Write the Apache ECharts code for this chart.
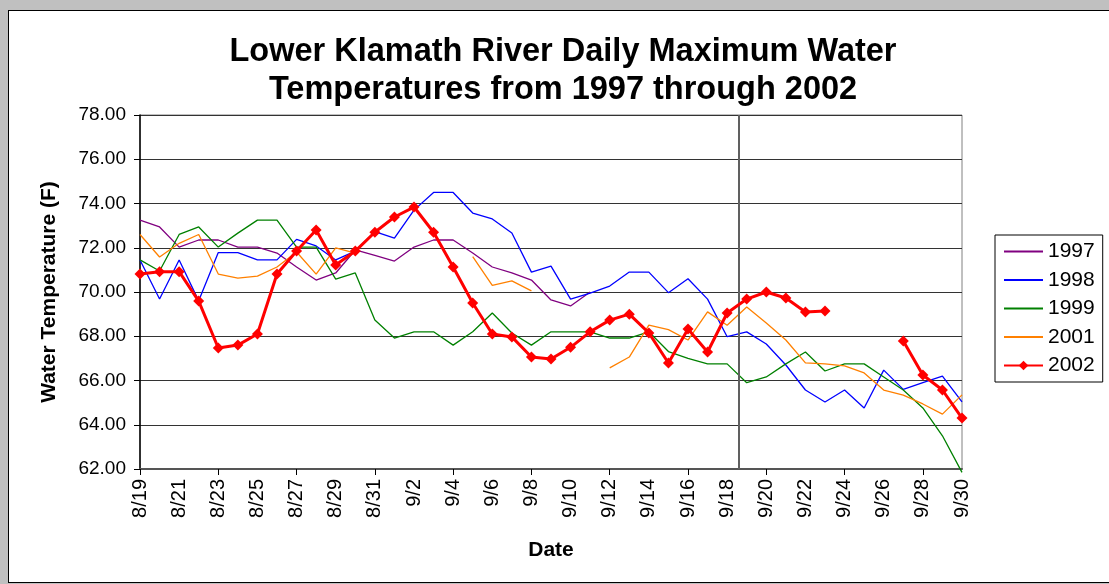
<!doctype html>
<html>
    <head>
        <meta charset="utf-8">
        <style>
            html, body { margin: 0; padding: 0; background: #c0c0c0; overflow: hidden; }
            #frame { position: absolute; left: 8px; top: 10px; width: 1120px; height: 571px; background: #fff; border: 1px solid #000; }
            #main { position: absolute; left: 0; top: 0; width: 1109px; height: 584px; }
        </style>
    </head>
    <body>
        <div id="frame"></div>
        <div id="main"></div>
        <script src="https://cdn.jsdelivr.net/npm/echarts@6/dist/echarts.min.js"></script>
        <script>
            // dates 8/19 .. 9/30
            var dates = ['8/19', '8/20', '8/21', '8/22', '8/23', '8/24', '8/25', '8/26', '8/27', '8/28', '8/29', '8/30', '8/31',
                '9/1', '9/2', '9/3', '9/4', '9/5', '9/6', '9/7', '9/8', '9/9', '9/10', '9/11', '9/12', '9/13', '9/14', '9/15',
                '9/16', '9/17', '9/18', '9/19', '9/20', '9/21', '9/22', '9/23', '9/24', '9/25', '9/26', '9/27', '9/28', '9/29', '9/30'];

            var t1997 = [73.25, 72.94, 72.03, 72.35, 72.35, 72.03, 72.03, 71.76, 71.13, 70.54, 70.86, 71.9, 71.65,
                71.4, 72.03, 72.35, 72.35, 71.76, 71.13, 70.86, 70.54, 69.64, 69.37, 70.0,
                null, null, null, null, null, null, null, null, null, null, null, null, null, null, null, null, null, null, null];
            var t1998 = [71.45, 69.68, 71.45, 69.6, 71.78, 71.78, 71.45, 71.45, 72.38, 72.08, 71.45, 71.85, 72.73,
                72.43, 73.7, 74.5, 74.5, 73.57, 73.3, 72.67, 70.9, 71.17, 69.68, 69.95, 70.27, 70.9, 70.9, 69.97,
                70.6, 69.68, 67.98, 68.2, 67.65, 66.7, 65.57, 65.03, 65.57, 64.76, 66.47, 65.6, 65.9, 66.2, 65.03];
            var t1999 = [71.45, 70.95, 72.6, 72.94, 72.03, 72.66, 73.25, 73.25, 72.03, 72.03, 70.58, 70.86, 68.73,
                67.92, 68.2, 68.2, 67.6, 68.2, 69.05, 68.15, 67.6, 68.2, 68.2, 68.2, 67.92, 67.92, 68.2, 67.31,
                67.0, 66.75, 66.75, 65.9, 66.16, 66.75, 67.29, 66.43, 66.75, 66.75, 66.16, 65.57, 64.76, 63.5, 61.85];
            var t2001 = [72.6, 71.58, 72.2, 72.6, 70.81, 70.63, 70.72, 71.13, 71.81, 70.81, 71.99, 71.76, null,
                null, null, null, null, 71.6, 70.3, 70.5, 70.05, null, null, null, 66.57, 67.06, 68.5, 68.3,
                67.83, 69.1, 68.5, 69.32, 68.6, 67.83, 66.8, 66.75, 66.66, 66.34, 65.57, 65.34, 64.94, 64.48, 65.35];
            var t2002 = [70.81, 70.92, 70.92, 69.59, 67.47, 67.6, 68.1, 70.81, 71.85, 72.8, 71.22, 71.85, 72.7,
                73.39, 73.84, 72.7, 71.13, 69.5, 68.1, 67.97, 67.06, 66.97, 67.5, 68.2, 68.73, 69.0, 68.15, 66.79,
                68.33, 67.29, 69.05, 69.68, 70.0, 69.73, 69.1, 69.14, null, null, null, 67.79, 66.25, 65.57, 64.3];

            var years = ['1997', '1998', '1999', '2001', '2002'];
            var colors = ['#800080', '#0000ff', '#008000', '#ff8000', '#ff0000'];
            var yearData = [t1997, t1998, t1999, t2001, t2002];

            // vertical marker between 9/18 and 9/19 (day index from 8/19)
            var dividerDay = 30.6;

            var font = '"Liberation Sans", Arial, sans-serif';

            var series = years.map(function (y, i) {
                var isLast = i === years.length - 1;
                return {
                    name: y,
                    type: 'line',
                    data: yearData[i],
                    symbol: isLast ? 'diamond' : 'none',
                    symbolSize: 11,
                    clip: false,
                    lineStyle: { color: colors[i], width: isLast ? 3 : 1.3 },
                    itemStyle: { color: colors[i] },
                    z: isLast ? 5 : 3
                };
            });
            series.push({
                type: 'line',
                xAxisIndex: 1,
                data: [],
                markLine: {
                    silent: true,
                    symbol: 'none',
                    label: { show: false },
                    lineStyle: { color: '#606060', width: 2, type: 'solid' },
                    data: [{ xAxis: dividerDay }]
                }
            });

            // plain line icons in the legend, except 2002 which keeps its diamond
            var legendData = years.map(function (y, i) {
                if (i === years.length - 1) return { name: y };
                return { name: y, itemStyle: { opacity: 0 } };
            });

            var chart = echarts.init(document.getElementById('main'));
            chart.setOption({
                animation: false,
                textStyle: { fontFamily: font },
                title: {
                    text: 'Lower Klamath River Daily Maximum Water\nTemperatures from 1997 through 2002',
                    left: 563,
                    top: 28,
                    textAlign: 'center',
                    padding: [5, 0, 5, 0],
                    textStyle: { fontSize: 32.5, fontWeight: 'bold', color: '#000', lineHeight: 38, fontFamily: font }
                },
                legend: {
                    data: legendData,
                    orient: 'vertical',
                    left: 995,
                    top: 235,
                    padding: [6, 8, 6, 8],
                    itemWidth: 39,
                    itemHeight: 12,
                    itemGap: 7.5,
                    borderColor: '#000',
                    borderWidth: 1,
                    textStyle: { fontSize: 21, color: '#000', fontFamily: font }
                },
                grid: {
                    left: 140,
                    right: 147,
                    top: 115,
                    bottom: 115,
                    show: true,
                    borderColor: '#808080',
                    borderWidth: 1
                },
                xAxis: [{
                    type: 'category',
                    data: dates,
                    boundaryGap: false,
                    axisLine: { lineStyle: { color: '#555', width: 2 } },
                    axisTick: { interval: 3, length: 6, lineStyle: { color: '#000' } },
                    axisLabel: { interval: 1, rotate: 90, fontSize: 20, color: '#000', margin: 10, fontFamily: font },
                    splitLine: { show: false },
                    name: 'Date',
                    nameLocation: 'middle',
                    nameGap: 71,
                    nameTextStyle: { fontSize: 21, fontWeight: 'bold', color: '#000', fontFamily: font }
                }, {
                    type: 'value',
                    min: 0,
                    max: dates.length - 1,
                    show: false
                }],
                yAxis: {
                    type: 'value',
                    min: 62,
                    max: 78,
                    interval: 2,
                    axisLine: { show: true, lineStyle: { color: '#000', width: 1.5 } },
                    axisTick: { show: true, length: 6, lineStyle: { color: '#000' } },
                    axisLabel: {
                        fontSize: 19, color: '#000', margin: 14, fontFamily: font,
                        formatter: function (v) { return v.toFixed(2); }
                    },
                    splitLine: { lineStyle: { color: '#333', width: 1 } },
                    name: 'Water Temperature (F)',
                    nameLocation: 'middle',
                    nameRotate: 90,
                    nameGap: 80,
                    nameTextStyle: { fontSize: 21, fontWeight: 'bold', color: '#000', fontFamily: font }
                },
                series: series
            });

            window.onresize = chart.resize;
        </script>
    </body>
</html>
